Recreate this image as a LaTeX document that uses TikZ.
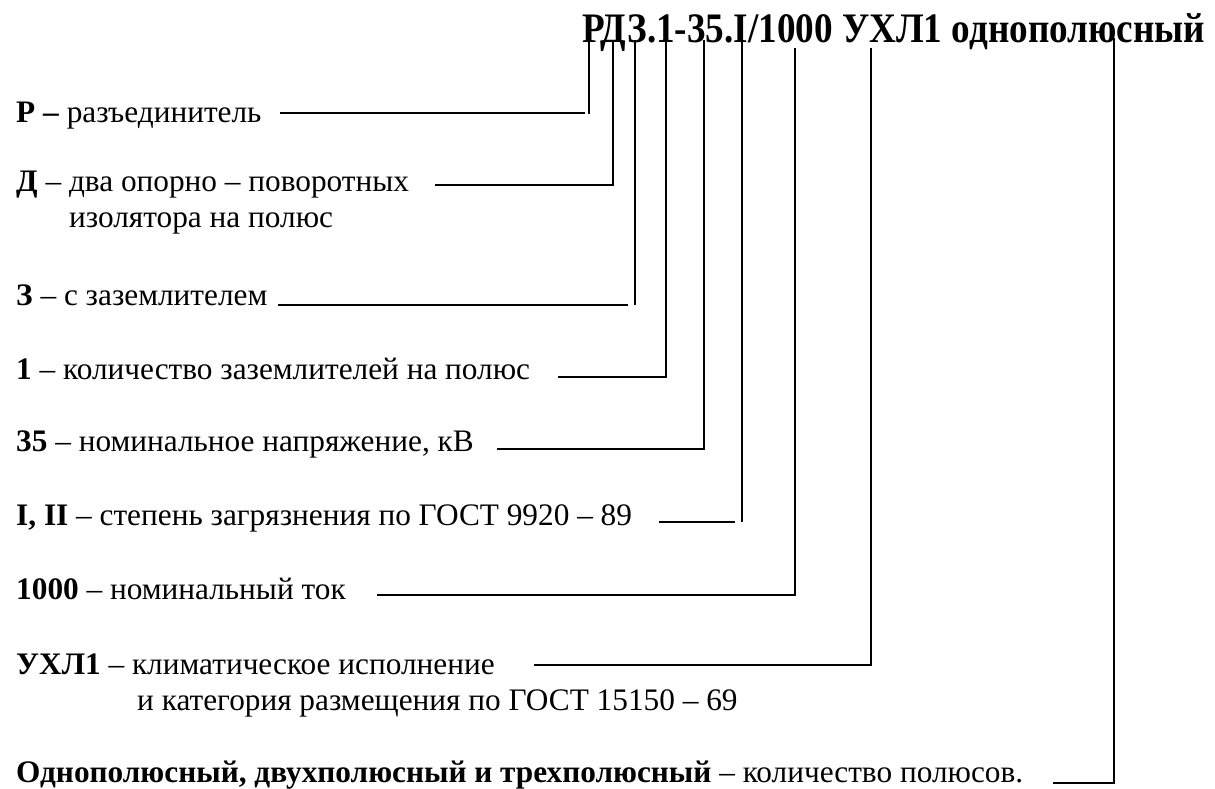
\documentclass[tikz,border=0pt]{standalone}
\usepackage{graphicx}
\usepackage{fontspec}
\setmainfont{Liberation Serif}[BoldFont={Liberation Serif Bold}]
\newfontfamily\serifmain{Liberation Serif}[BoldFont={Liberation Serif Bold}]
\begin{document}
\begin{tikzpicture}[x=1pt,y=-1pt,
  txt/.style={anchor=base west,inner sep=0pt,font=\fontsize{31.3pt}{35.6pt}\serifmain},
  ln/.style={line width=1.7pt}]
\useasboundingbox (0,0) rectangle (1215,789);
\node[anchor=base west,inner sep=0pt] (title) at (582,43)
  {\resizebox{623pt}{\height}{\fontsize{42pt}{42pt}\serifmain\bfseries РДЗ.1-35.I/1000 УХЛ1 однополюсный}};
\node[txt] (tP) at (16,123) {\textbf{Р –} разъединитель};
\node[txt] (tD) at (16,191.7) {\textbf{Д} – два опорно – поворотных};
\node[txt] (tD2) at (69,227.3) {изолятора на полюс};
\node[txt] (tZ) at (16,305) {\textbf{З} – с заземлителем};
\node[txt] (t1) at (16,379) {\textbf{1} – количество заземлителей на полюс};
\node[txt] (t35) at (16,451) {\textbf{35} – номинальное напряжение, кВ};
\node[txt] (tI) at (16,525) {\textbf{I, II} – степень загрязнения по ГОСТ 9920 – 89};
\node[txt] (t1000) at (16,599) {\textbf{1000} – номинальный ток};
\node[txt] (tU) at (16,674) {\textbf{УХЛ1} – климатическое исполнение};
\node[txt] (tU2) at (137,710) {и категория размещения по ГОСТ 15150 – 69};
\node[txt] (tO) at (16,782) {\textbf{Однополюсный, двухполюсный и трехполюсный} – количество полюсов.};
% Р
\coordinate (aP) at (280,113); \coordinate (bP) at (585,113);
\coordinate (uP) at (589,40); \coordinate (dP) at (589,114);
\draw[ln] (aP) -- (bP); \draw[ln] (uP) -- (dP);
% Д
\coordinate (aD) at (435,185); \coordinate (cD) at (612.7,185); \coordinate (uD) at (612.7,40);
\draw[ln] (aD) -- (cD) -- (uD);
% З
\coordinate (aZ) at (278,305); \coordinate (bZ) at (628.3,305);
\coordinate (uZ) at (635,40); \coordinate (dZ) at (635,305);
\draw[ln] (aZ) -- (bZ); \draw[ln] (uZ) -- (dZ);
% 1
\coordinate (a1) at (558.3,377.3); \coordinate (c1) at (665.7,377.3); \coordinate (u1) at (665.7,40);
\draw[ln] (a1) -- (c1) -- (u1);
% 35
\coordinate (a35) at (497.3,449.3); \coordinate (c35) at (704,449.3); \coordinate (u35) at (704,40);
\draw[ln] (a35) -- (c35) -- (u35);
% I, II
\coordinate (aI) at (659,521.7); \coordinate (bI) at (735,521.7);
\coordinate (uI) at (741.7,40); \coordinate (dI) at (741.7,521.7);
\draw[ln] (aI) -- (bI); \draw[ln] (uI) -- (dI);
% 1000
\coordinate (a1000) at (376.7,595); \coordinate (c1000) at (795,595); \coordinate (u1000) at (795,48);
\draw[ln] (a1000) -- (c1000) -- (u1000);
% УХЛ1
\coordinate (aU) at (534,665); \coordinate (cU) at (871,665); \coordinate (uU) at (871,48);
\draw[ln] (aU) -- (cU) -- (uU);
% Однополюсный
\coordinate (aO) at (1053,783); \coordinate (cO) at (1114,783); \coordinate (uO) at (1114,38);
\draw[ln] (aO) -- (cO) -- (uO);
\end{tikzpicture}
\end{document}
